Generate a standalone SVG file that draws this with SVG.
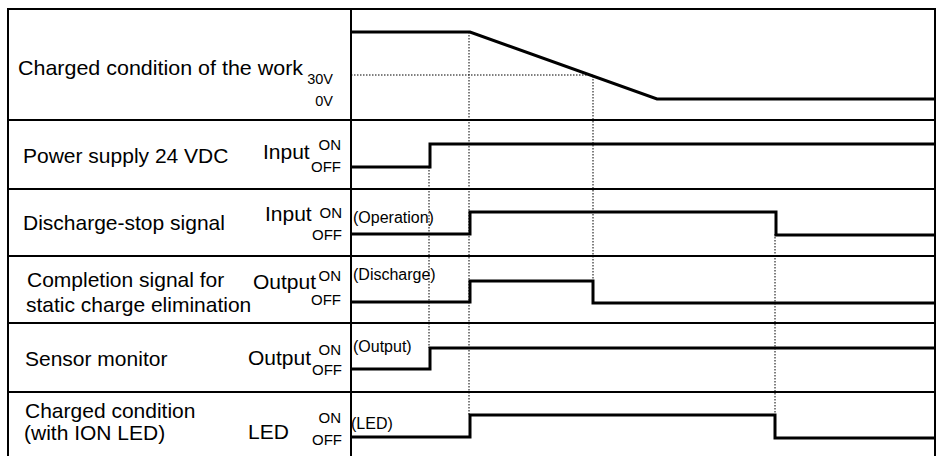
<svg xmlns="http://www.w3.org/2000/svg" width="938" height="456" viewBox="0 0 938 456">
<style>
text{font-family:"Liberation Sans",Arial,sans-serif;fill:#000}
.lbl{font-size:21px}
.st{font-size:15px}
.v{font-size:14.5px}
.ann{font-size:16px}
.grid{stroke:#000;stroke-width:2;fill:none}
.wave{stroke:#000;stroke-width:3;fill:none;stroke-linejoin:miter}
.dot{stroke:#000;stroke-width:1;stroke-dasharray:1.5 1.5;fill:none}
</style>
<rect width="938" height="456" fill="#fff"/>
<g id="frame">
<path class="grid" d="M8,456 V9 H935 V456"/>
<path class="grid" d="M351,9 V456"/>
<path class="grid" d="M8,120 H935 M8,189 H935 M8,256 H935 M8,323 H935 M8,392 H935"/>
</g>
<g id="connectors">
<path class="dot" d="M351,75 H593"/>
<path class="dot" d="M469,32 V415"/>
<path class="dot" d="M429,167 V348"/>
<path class="dot" d="M593,76 V281"/>
<path class="dot" d="M775,234 V415"/>
</g>
<g id="row-charge">
<text class="lbl" x="18" y="75" textLength="285" lengthAdjust="spacingAndGlyphs">Charged condition of the work</text>
<text class="v" x="333" y="84" text-anchor="end">30V</text>
<text class="v" x="333" y="106" text-anchor="end">0V</text>
<path class="wave" d="M351,32 H470 L657,99 H935"/>
</g>
<g id="row-power">
<text class="lbl" x="23" y="163">Power supply 24 VDC</text>
<text class="lbl" x="263" y="159">Input</text>
<text class="st" x="341" y="150" text-anchor="end">ON</text>
<text class="st" x="341" y="172" text-anchor="end">OFF</text>
<path class="wave" d="M351,167 H430 V144 H935"/>
</g>
<g id="row-stop">
<text class="lbl" x="23" y="230">Discharge-stop signal</text>
<text class="lbl" x="265" y="221">Input</text>
<text class="st" x="342" y="218" text-anchor="end">ON</text>
<text class="st" x="342" y="240" text-anchor="end">OFF</text>
<text class="ann" x="353" y="223">(Operation)</text>
<path class="wave" d="M351,234 H470 V212 H776 V235 H935"/>
</g>
<g id="row-completion">
<text class="lbl" x="27" y="287">Completion signal for</text>
<text class="lbl" x="26" y="312">static charge elimination</text>
<text class="lbl" x="253" y="289">Output</text>
<text class="st" x="341" y="281" text-anchor="end">ON</text>
<text class="st" x="341" y="305" text-anchor="end">OFF</text>
<text class="ann" x="353" y="280">(Discharge)</text>
<path class="wave" d="M351,302 H470 V281 H593 V303 H935"/>
</g>
<g id="row-sensor">
<text class="lbl" x="25" y="366">Sensor monitor</text>
<text class="lbl" x="248" y="365">Output</text>
<text class="st" x="341" y="355" text-anchor="end">ON</text>
<text class="st" x="342" y="375" text-anchor="end">OFF</text>
<text class="ann" x="353" y="352">(Output)</text>
<path class="wave" d="M351,369 H430 V348 H935"/>
</g>
<g id="row-led">
<text class="lbl" x="25" y="418">Charged condition</text>
<text class="lbl" x="24" y="440">(with ION LED)</text>
<text class="lbl" x="248" y="439">LED</text>
<text class="st" x="341" y="423" text-anchor="end">ON</text>
<text class="st" x="342" y="445" text-anchor="end">OFF</text>
<text class="ann" x="351" y="429">(LED)</text>
<path class="wave" d="M351,437 H470 V415 H775 V438 H935"/>
</g>
</svg>
